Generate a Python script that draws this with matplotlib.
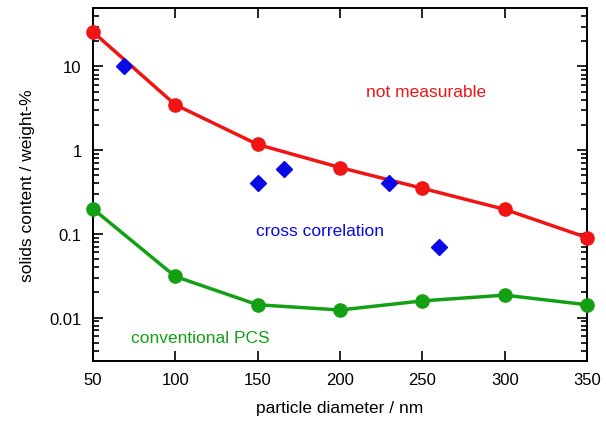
import matplotlib
matplotlib.use("Agg")
from matplotlib import pyplot as plt
from matplotlib.ticker import FixedLocator, LogLocator, NullFormatter

plt.rcParams["font.family"] = ["Liberation Sans", "DejaVu Sans"]

diameter = [50, 100, 150, 200, 250, 300, 350]
not_measurable = [26, 3.5, 1.17, 0.62, 0.35, 0.196, 0.09]
conventional_pcs = [0.2, 0.031, 0.0142, 0.0123, 0.0158, 0.0185, 0.0142]

cc_diameter = [69, 150, 166, 230, 260]
cc_content = [10, 0.4, 0.6, 0.4, 0.07]

RED = "#f01414"
GREEN = "#14a014"
BLUE = "#0a0ae6"

fig = plt.figure(figsize=(6.06, 4.27), dpi=100)
ax = fig.add_axes([0.153, 0.1516, 0.816, 0.8274])

ax.plot(diameter, not_measurable, color=RED, lw=2.5, marker="o", ms=9.5,
        zorder=3, clip_on=False)
ax.plot(diameter, conventional_pcs, color=GREEN, lw=2.5, marker="o", ms=9.5,
        zorder=3, clip_on=False)
ax.plot(cc_diameter, cc_content, ls="none", color=BLUE, marker="D", ms=8.5,
        zorder=4, clip_on=False)

ax.set_yscale("log")
ax.set_xlim(50, 350)
ax.set_ylim(0.003, 50)

ax.xaxis.set_major_locator(FixedLocator(diameter))
ax.yaxis.set_major_locator(FixedLocator([0.01, 0.1, 1, 10]))
ax.yaxis.set_major_formatter(plt.FuncFormatter(lambda v, _: f"{v:g}"))
ax.yaxis.set_minor_locator(LogLocator(base=10, subs=range(2, 10), numticks=20))
ax.yaxis.set_minor_formatter(NullFormatter())

ax.tick_params(which="both", direction="in", top=True, right=True, width=1.2,
               labelsize=12, pad=8)
ax.tick_params(which="major", length=7)
ax.tick_params(which="minor", length=4)
for side in ax.spines.values():
    side.set_linewidth(1.4)

ax.set_xlabel("particle diameter / nm", fontsize=12.5, labelpad=9)
ax.set_ylabel("solids content / weight-%", fontsize=12.5, labelpad=10)

ax.text(252, 10 ** 0.7, "not measurable", color=RED, fontsize=12.5,
        ha="center", va="center")
ax.text(188, 0.11, "cross correlation", color=BLUE, fontsize=12.5,
        ha="center", va="center")
ax.text(115, 0.0058, "conventional PCS", color=GREEN, fontsize=12.5,
        ha="center", va="center")

fig.savefig("out.png", dpi=100)
